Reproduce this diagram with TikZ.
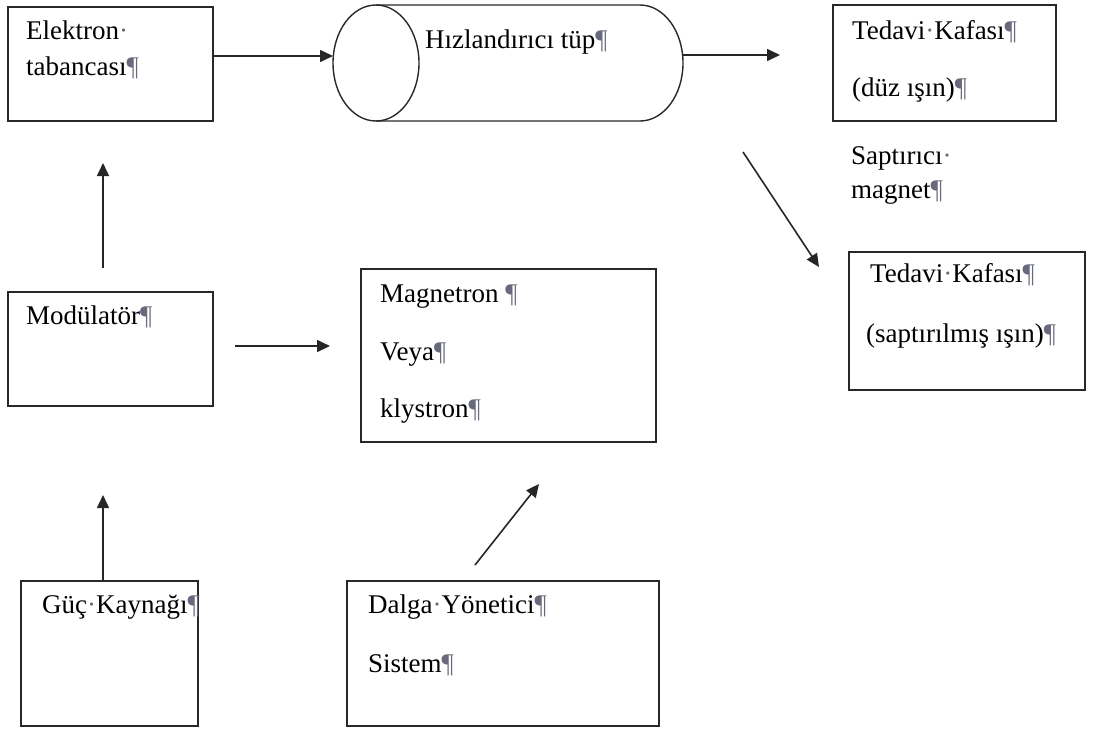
\documentclass[tikz,border=0pt]{standalone}
\usepackage{fontspec}
\setmainfont{Liberation Serif}
\usetikzlibrary{arrows.meta,fit,shapes.geometric}
\definecolor{markgray}{RGB}{105,105,125}
\definecolor{edge}{RGB}{40,40,40}
\newcommand{\parmark}{{\color{markgray}¶}}
\newcommand{\spcmark}{{\color{markgray}·}}
\begin{document}
\begin{tikzpicture}[x=1pt,y=-1pt,
  box/.style={draw=edge,line width=1.6pt,inner sep=0pt,outer sep=0pt},
  txt/.style={anchor=base west,inner sep=0pt,font=\fontsize{27}{31}\selectfont},
  arr/.style={draw=black!85,line width=1.6pt,-{Triangle[length=13pt,width=12pt]}}]
\fill[white] (0,0) rectangle (1094,731);
\useasboundingbox (0,0) rectangle (1094,731);

% blocks
\node[box,fit={(8,7) (213,121)}] (elek) {};
\node[box,fit={(833,5) (1056,121)}] (ted1) {};
\node[box,fit={(849,252) (1085,390)}] (ted2) {};
\node[box,fit={(8,292) (213,406)}] (mod) {};
\node[box,fit={(361,269) (656,442)}] (mag) {};
\node[box,fit={(21,581) (198,726)}] (guc) {};
\node[box,fit={(347,581) (659,726)}] (dal) {};

% accelerator tube drawn as a cylinder lying on its side
\node[inner sep=0pt,outer sep=0pt,fit={(333,5) (683,121)}] (tube) {};
\draw[edge,line width=1.4pt] (376,5) -- (640,5)
  arc[start angle=90,end angle=-90,x radius=43pt,y radius=58pt]
  -- (376,121);
\node[draw=edge,line width=1.4pt,ellipse,inner sep=0pt,outer sep=0pt,
  minimum width=86pt,minimum height=116pt] (tubeL) at (376,63) {};

% labels
\node[txt] (t1) at (26,39) {Elektron\spcmark};
\node[txt] (t2) at (26,75) {tabancası\parmark};
\node[txt] (t3) at (425,48) {Hızlandırıcı tüp\parmark};
\node[txt] (t4) at (852,39) {Tedavi\spcmark Kafası\parmark};
\node[txt] (t5) at (852,96) {(düz ışın)\parmark};
\node[txt] (t6) at (851,164) {Saptırıcı\spcmark};
\node[txt] (t7) at (851,198) {magnet\parmark};
\node[txt] (t8) at (870,282) {Tedavi\spcmark Kafası\parmark};
\node[txt] (t9) at (866,342) {(saptırılmış ışın)\parmark};
\node[txt] (t10) at (26,324) {Modülatör\parmark};
\node[txt] (t11) at (380,302) {Magnetron \parmark};
\node[txt] (t12) at (380,360) {Veya\parmark};
\node[txt] (t13) at (380,417) {klystron\parmark};
\node[txt] (t14) at (42,613) {Güç\spcmark Kaynağı\parmark};
\node[txt] (t15) at (368,613) {Dalga\spcmark Yönetici\parmark};
\node[txt] (t16) at (368,672) {Sistem\parmark};

% connectors
\draw[arr] ([yshift=8pt]elek.east) -- ([yshift=8pt]elek.east -| tubeL.west);
\draw[arr,shorten >=53pt] ([yshift=8pt]tube.east) -- ([yshift=8pt]tube.east -| ted1.west);
\draw[arr] ([shift={(60,31)}]tube.south east) -- ([shift={(-30,15)}]ted2.north west);
\draw[arr,shorten <=24pt,shorten >=42pt] ([xshift=-7.5pt]mod.north) -- ([xshift=-7.5pt]mod.north |- elek.south);
\draw[arr,shorten <=22pt,shorten >=31pt] ([yshift=3pt]mod.east) -- ([yshift=3pt]mod.east -| mag.west);
\draw[arr,shorten >=89pt] ([xshift=-6.5pt]guc.north) -- ([xshift=-6.5pt]guc.north |- mod.south);
\draw[arr] ([shift={(-28,-16)}]dal.north) -- ([shift={(30.5,42)}]mag.south);
\end{tikzpicture}
\end{document}
